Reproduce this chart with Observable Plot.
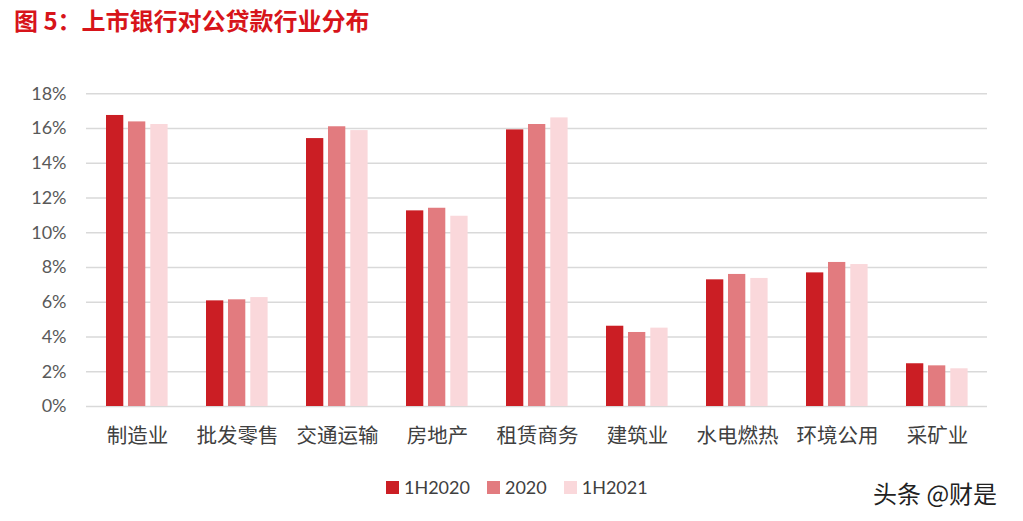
<!DOCTYPE html>
<html><head><meta charset="utf-8">
<script src="https://cdn.jsdelivr.net/npm/d3@7"></script>
<script src="https://cdn.jsdelivr.net/npm/@observablehq/plot@0.6"></script>
<style>
body{margin:0;background:#fff;width:1023px;height:521px;overflow:hidden;position:relative;font-family:Lato,"Noto Sans CJK SC",sans-serif;}
#title{position:absolute;left:14px;top:2px;font-family:"Noto Sans CJK SC",sans-serif;font-weight:bold;font-size:24px;color:#D7141A;white-space:nowrap;}
#chart{position:absolute;left:0;top:50px;}
#legend{position:absolute;top:476px;left:386px;display:flex;font-size:18px;color:#404040;}
.item{display:flex;align-items:center;margin-right:17px;}
.sw{width:13px;height:13px;margin-right:5px;}
#wm{position:absolute;left:873px;top:475px;font-family:"Noto Sans CJK SC",sans-serif;font-size:24px;color:#222;text-shadow:0 0 2px #fff;white-space:nowrap;}
</style></head>
<body>
<div id="title">图 5：上市银行对公贷款行业分布</div>
<div id="chart"></div>
<div id="legend"></div>
<div id="wm">头条 @财是</div>
<script>
const categories = ["制造业","批发零售","交通运输","房地产","租赁商务","建筑业","水电燃热","环境公用","采矿业"];
const seriesNames = ["1H2020","2020","1H2021"];
const v1H2020 = [16.75, 6.08, 15.42, 11.26, 15.92, 4.62, 7.29, 7.69, 2.46];
const v2020   = [16.38, 6.14, 16.10, 11.41, 16.23, 4.26, 7.60, 8.29, 2.34];
const v1H2021 = [16.23, 6.27, 15.88, 10.95, 16.61, 4.51, 7.37, 8.17, 2.17];
const yTicks = [0,2,4,6,8,10,12,14,16,18];
const colors = ["#CB1E24","#E27B7F","#FAD8DB"];

const seriesValues = [v1H2020, v2020, v1H2021];
const data = seriesValues.map((vals, s) => categories.map((c, i) => ({category: c, series: seriesNames[s], value: vals[i]})));
const insets = [[0, 44.7], [22, 22.7], [44.3, 0.4]];

const chart = Plot.plot({
  width: 1023,
  height: 410,
  marginLeft: 86,
  marginRight: 36,
  marginTop: 43.25,
  marginBottom: 54,
  style: {fontFamily: 'Lato,"Noto Sans CJK SC",sans-serif', background: "#fff"},
  x: {domain: categories, paddingInner: 0.38, paddingOuter: 0.19, axis: null},
  y: {domain: [0, 18], axis: null},
  marks: [
    Plot.ruleY(yTicks, {stroke: "#D9D9D9", strokeWidth: 1.6}),
    ...data.map((d, s) => Plot.barY(d, {x: "category", y: "value", fill: colors[s], insetLeft: insets[s][0], insetRight: insets[s][1]})),
    Plot.axisY(yTicks, {tickSize: 0, tickPadding: 20, tickFormat: d => d + "%", fontSize: 18, fill: "#595959", label: null}),
    Plot.axisX({tickSize: 0, tickPadding: 22, fontSize: 20.5, fill: "#404040", fontFamily: '"Noto Sans CJK SC",sans-serif', label: null})
  ]
});
document.getElementById("chart").appendChild(chart);

const legend = document.getElementById("legend");
seriesNames.forEach((n, i) => {
  const it = document.createElement("div");
  it.className = "item";
  it.innerHTML = `<div class="sw" style="background:${colors[i]}"></div><span>${n}</span>`;
  legend.appendChild(it);
});
</script>
</body></html>
